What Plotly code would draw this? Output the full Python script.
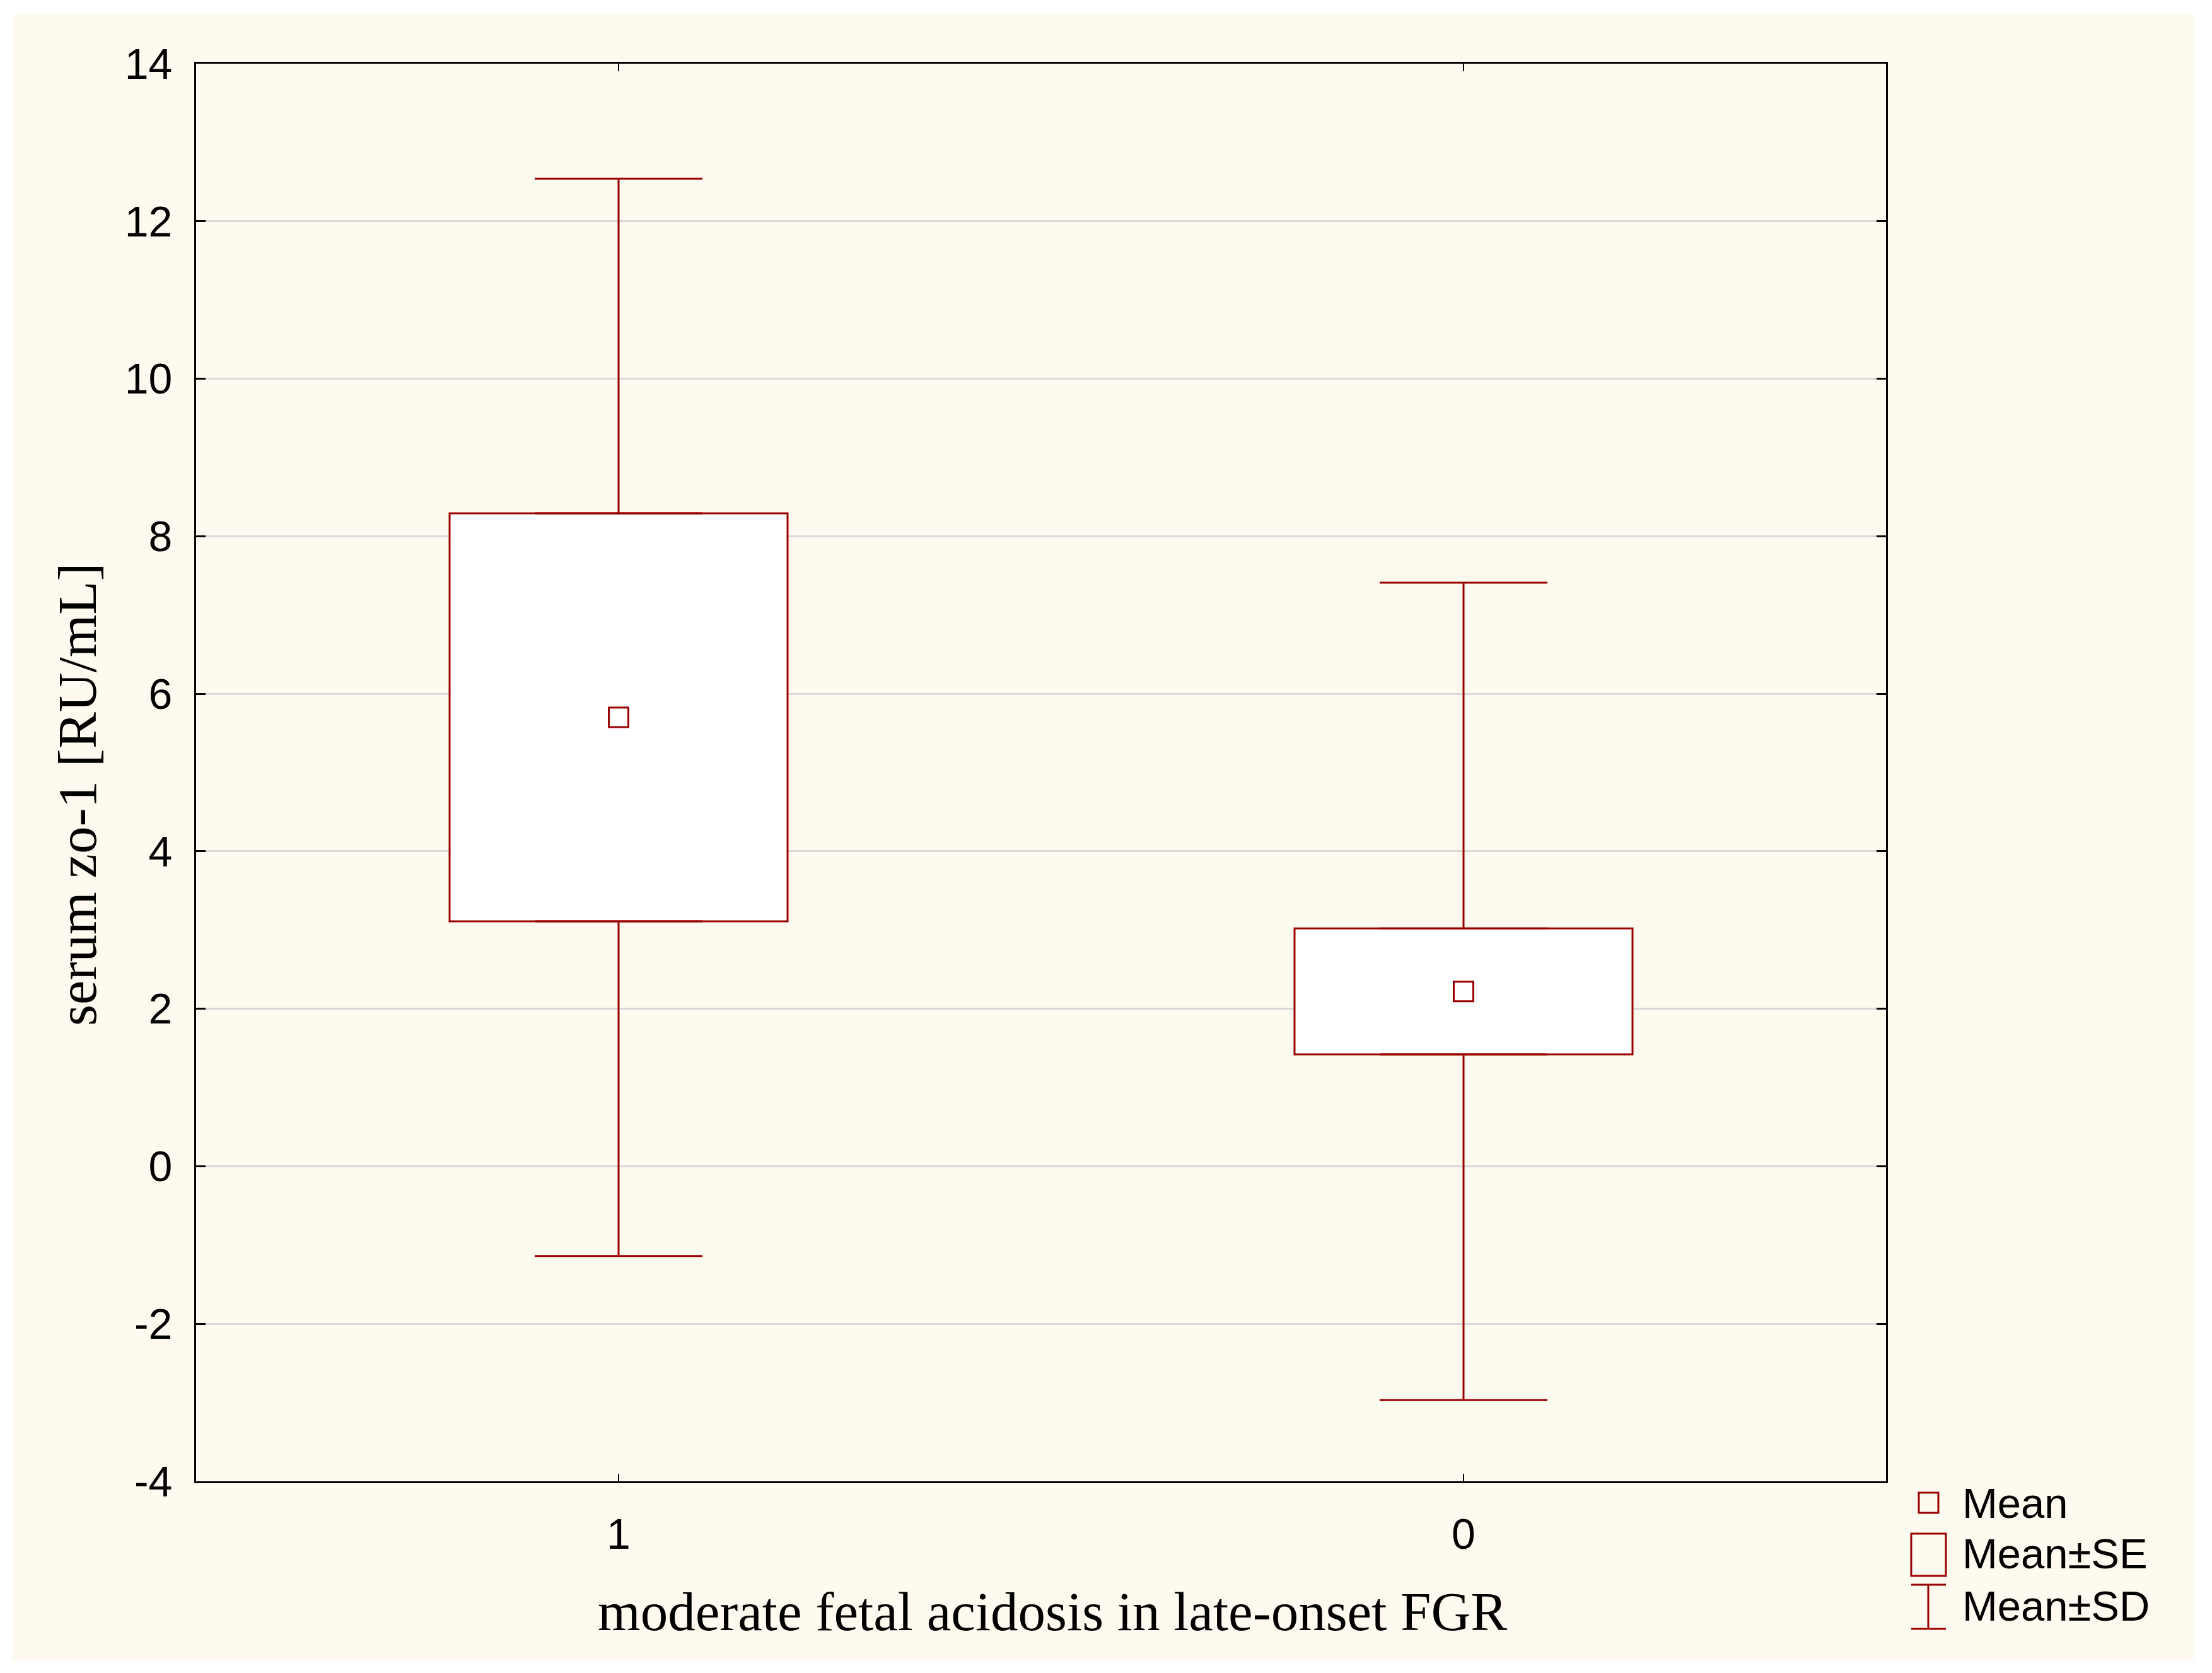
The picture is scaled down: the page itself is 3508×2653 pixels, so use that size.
import plotly.graph_objects as go

# data
groups = ["1", "0"]
means = [5.70, 2.22]
se = [2.59, 0.80]
sd = [6.84, 5.19]

y_ticks = [-4, -2, 0, 2, 4, 6, 8, 10, 12, 14]
y_tick_labels = [str(v) for v in y_ticks]

legend_labels = ["Mean", "Mean±SE", "Mean±SD"]
x_title = "moderate fetal acidosis in late-onset FGR"
y_title = "serum zo-1 [RU/mL]"

RED = "#9a0000"
CREAM = "#fefaef"
OFF = 8  # page body margin
W, H = 3508 - OFF, 2653 - OFF
L, T = 311 - OFF, 101 - OFF
R, B = W - (2991 - OFF), H - (2349 - OFF)

se_lo = [m - s for m, s in zip(means, se)]
se_hi = [m + s for m, s in zip(means, se)]
sd_lo = [m - s for m, s in zip(means, sd)]
sd_hi = [m + s for m, s in zip(means, sd)]


# page pixel -> paper coordinates
def px_x(p):
    return (p - OFF - L) / (W - L - R)


def px_y(p):
    return (H - B - (p - OFF)) / (H - T - B)


fig = go.Figure()

# SE boxes
fig.add_trace(go.Bar(
    x=groups, y=[h - l for h, l in zip(se_hi, se_lo)], base=se_lo, width=0.4,
    marker=dict(color="white", line=dict(color=RED, width=3)),
    showlegend=False, hoverinfo="skip",
))

# SD whiskers (upper and lower parts, starting at the box edges)
fig.add_trace(go.Scatter(
    x=groups, y=se_hi, mode="markers",
    marker=dict(size=1, color="rgba(0,0,0,0)"),
    error_y=dict(type="data", symmetric=False,
                 array=[h - s for h, s in zip(sd_hi, se_hi)], arrayminus=[0, 0],
                 width=133, thickness=3, color=RED),
    showlegend=False, hoverinfo="skip",
))
fig.add_trace(go.Scatter(
    x=groups, y=se_lo, mode="markers",
    marker=dict(size=1, color="rgba(0,0,0,0)"),
    error_y=dict(type="data", symmetric=False,
                 array=[0, 0], arrayminus=[s - l for s, l in zip(se_lo, sd_lo)],
                 width=133, thickness=3, color=RED),
    showlegend=False, hoverinfo="skip",
))

# means
fig.add_trace(go.Scatter(
    x=groups, y=means, mode="markers",
    marker=dict(symbol="square-open", size=31, color=RED, line=dict(width=3, color=RED)),
    showlegend=False,
))

shapes = [
    # cream background panel
    dict(type="rect", xref="paper", yref="paper", layer="below",
         x0=px_x(21), x1=px_x(3479), y0=px_y(2633), y1=px_y(23),
         fillcolor=CREAM, line=dict(width=0)),
    # legend symbols
    dict(type="rect", xref="paper", yref="paper",
         x0=px_x(3043), x1=px_x(3074), y0=px_y(2399), y1=px_y(2367),
         line=dict(color=RED, width=3)),
    dict(type="rect", xref="paper", yref="paper",
         x0=px_x(3031), x1=px_x(3086), y0=px_y(2499), y1=px_y(2432),
         line=dict(color=RED, width=3)),
    dict(type="line", xref="paper", yref="paper",
         x0=px_x(3058), x1=px_x(3058), y0=px_y(2583), y1=px_y(2513),
         line=dict(color=RED, width=3)),
    dict(type="line", xref="paper", yref="paper",
         x0=px_x(3031), x1=px_x(3086), y0=px_y(2513), y1=px_y(2513),
         line=dict(color=RED, width=3)),
    dict(type="line", xref="paper", yref="paper",
         x0=px_x(3031), x1=px_x(3086), y0=px_y(2583), y1=px_y(2583),
         line=dict(color=RED, width=3)),
]

annotations = []
for lab, yc in zip(legend_labels, [2383, 2463, 2546]):
    annotations.append(dict(
        text=lab, xref="paper", yref="paper", x=px_x(3110), y=px_y(yc),
        xanchor="left", yanchor="middle", showarrow=False,
        font=dict(family="Liberation Sans, Arial", size=67, color="black"),
    ))
annotations.append(dict(
    text=x_title, xref="paper", yref="paper", x=px_x(1669), y=px_y(2555),
    xanchor="center", yanchor="middle", showarrow=False,
    font=dict(family="Liberation Serif, Times New Roman", size=87, color="black"),
))
annotations.append(dict(
    text=y_title, xref="paper", yref="paper", x=px_x(123), y=px_y(1260),
    xanchor="center", yanchor="middle", showarrow=False, textangle=-90,
    font=dict(family="Liberation Serif, Times New Roman", size=87, color="black"),
))

fig.update_layout(
    width=W, height=H,
    margin=dict(l=L, r=R, t=T, b=B),
    paper_bgcolor="white", plot_bgcolor="white",
    shapes=shapes, annotations=annotations,
    font=dict(family="Liberation Sans, Arial", size=68, color="black"),
)
fig.update_xaxes(
    type="category", range=[-0.5, 1.5],
    showline=True, linecolor="black", linewidth=3, mirror="ticks",
    ticks="inside", ticklen=12, tickwidth=2, tickcolor="black",
    showgrid=False, ticklabelstandoff=22,
)
fig.update_yaxes(
    range=[-4, 14], tickvals=y_ticks, ticktext=y_tick_labels,
    showline=True, linecolor="black", linewidth=3, mirror="ticks",
    ticks="inside", ticklen=15, tickwidth=3, tickcolor="black",
    showgrid=True, gridcolor="#d9d9d9", gridwidth=3, zeroline=False,
    ticklabelstandoff=21,
)

fig.write_html("out.html")
